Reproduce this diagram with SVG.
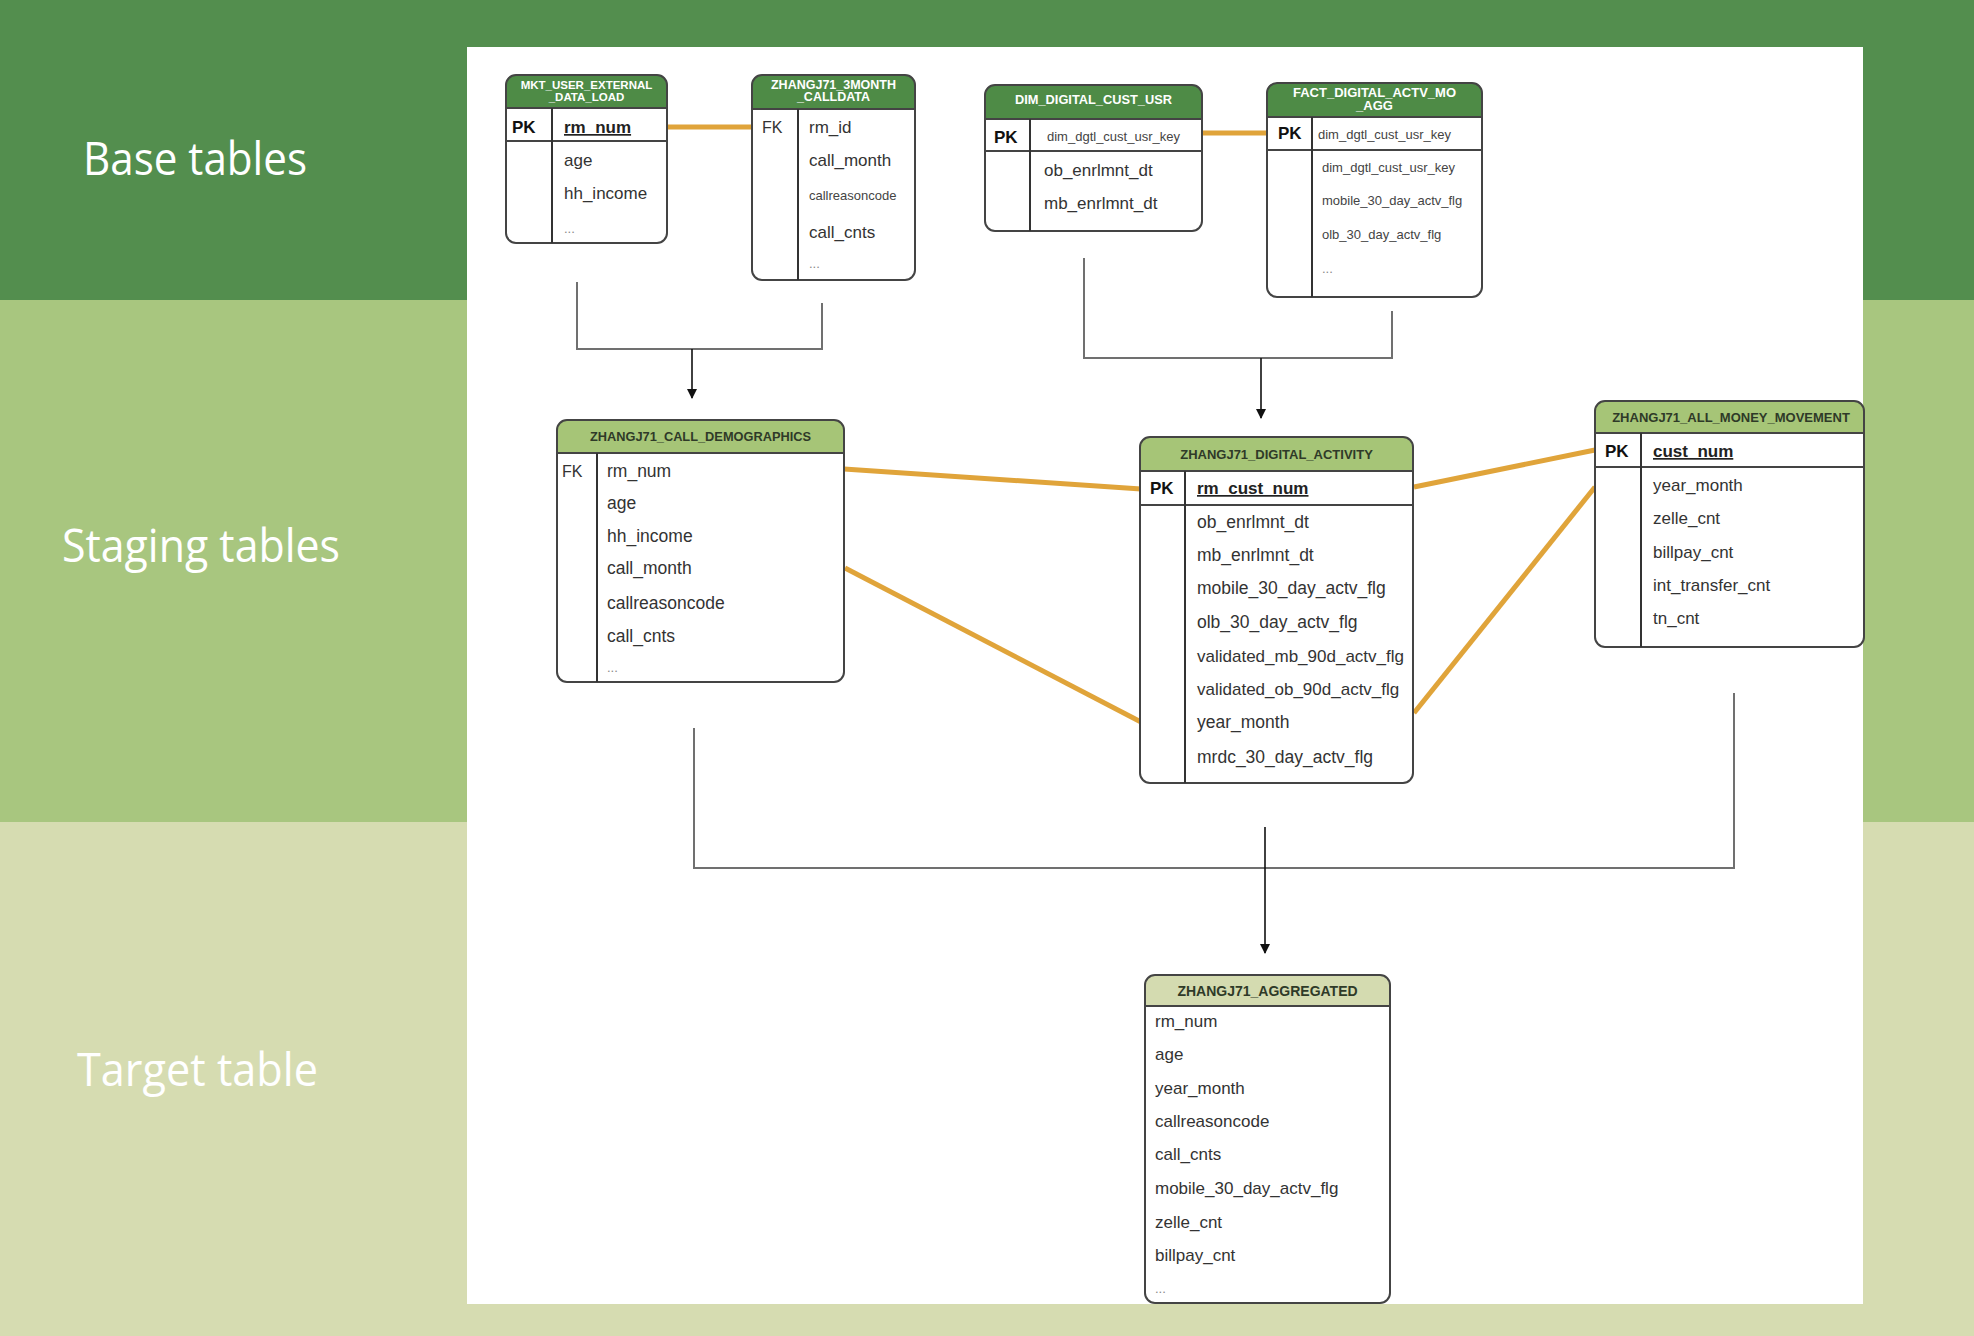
<svg xmlns="http://www.w3.org/2000/svg" width="1974" height="1336" viewBox="0 0 1974 1336">
<style>
.lbl{font-family:"Open Sans","Liberation Sans",sans-serif;font-size:46px;fill:#ffffff}
.body{fill:#ffffff}
.frame{fill:none;stroke:#444444;stroke-width:2}
.sep{stroke:#444444;stroke-width:2}
.div{stroke:#333333;stroke-width:2}
.hb{fill:#4E8B46}
.hs{fill:#A6C577}
.ht{fill:#D4DBB0}
.tw{font-family:"Liberation Sans",Arial,sans-serif;font-weight:bold;fill:#ffffff;text-anchor:middle}
.td{font-family:"Liberation Sans",Arial,sans-serif;font-weight:bold;fill:#2f3a28;text-anchor:middle}
.pk{font-family:"Liberation Sans",Arial,sans-serif;font-weight:bold;font-size:17px;fill:#111111}
.fk{font-family:"Liberation Sans",Arial,sans-serif;font-size:16px;fill:#333333}
.r{font-family:"Liberation Sans",Arial,sans-serif;font-size:17px;fill:#333333}
.r2{font-family:"Liberation Sans",Arial,sans-serif;font-size:17.5px;fill:#333333}
.rb{font-family:"Liberation Sans",Arial,sans-serif;font-size:17px;font-weight:bold;fill:#222222;text-decoration:underline}
.s{font-family:"Liberation Sans",Arial,sans-serif;font-size:13px;fill:#444444}
.dots{font-family:"Liberation Sans",Arial,sans-serif;font-size:13px;fill:#888888}
.gray{fill:none;stroke:#707070;stroke-width:2}
.arr{fill:none;stroke:#111111;stroke-width:1.6}
.or{fill:none;stroke:#E0A43A;stroke-width:5}
</style>
<defs>
<marker id="ah" viewBox="0 0 10 10" refX="9" refY="5" markerWidth="10" markerHeight="10" markerUnits="userSpaceOnUse" orient="auto">
<path d="M0,0 L10,5 L0,10 Z" fill="#111111"/>
</marker>
</defs>

<!-- bands -->
<rect x="0" y="0" width="1974" height="300" fill="#538E4E"/>
<rect x="0" y="300" width="1974" height="522" fill="#A8C67F"/>
<rect x="0" y="822" width="1974" height="514" fill="#D6DCB1"/>
<rect x="467" y="47" width="1396" height="1257" fill="#ffffff"/>

<text class="lbl" x="83" y="175" textLength="224" lengthAdjust="spacingAndGlyphs">Base tables</text>
<text class="lbl" x="62" y="562" textLength="278" lengthAdjust="spacingAndGlyphs">Staging tables</text>
<text class="lbl" x="77" y="1086" textLength="241" lengthAdjust="spacingAndGlyphs">Target table</text>

<!-- connectors -->
<g id="connectors">
<path class="or" d="M668,127 H752"/>
<path class="or" d="M1202,133 H1267"/>
<path class="or" d="M844,469 L1141,489"/>
<path class="or" d="M845,568 L1141,722"/>
<path class="or" d="M1414,487 L1595,450"/>
<path class="or" d="M1414,713 L1595,487"/>
<path class="gray" d="M577,282 V349 H822 V303"/>
<path class="arr" d="M692,349 V398" marker-end="url(#ah)"/>
<path class="gray" d="M1084,258 V358 H1392 V311"/>
<path class="arr" d="M1261,358 V418" marker-end="url(#ah)"/>
<path class="gray" d="M694,728 V868 H1734 V693"/>
<path class="arr" d="M1265,827 V953" marker-end="url(#ah)"/>
</g>

<!-- MKT_USER_EXTERNAL_DATA_LOAD -->
<g id="mkt_user_external_data_load">
<rect class="body" x="506" y="75" width="161" height="168" rx="10"/>
<path class="hb" d="M506,108 V85 Q506,75 516,75 H657 Q667,75 667,85 V108 Z"/>
<rect class="frame" x="506" y="75" width="161" height="168" rx="10"/>
<line class="sep" x1="506" y1="108" x2="667" y2="108"/>
<line class="sep" x1="506" y1="141" x2="667" y2="141"/>
<line class="div" x1="552" y1="108" x2="552" y2="243"/>
<text class="tw" x="586.5" y="89" font-size="11.5">MKT_USER_EXTERNAL</text>
<text class="tw" x="586.5" y="101" font-size="11.5">_DATA_LOAD</text>
<text class="pk" x="512" y="133">PK</text>
<text class="rb" x="564" y="133">rm_num</text>
<text class="r" x="564" y="166">age</text>
<text class="r" x="564" y="199">hh_income</text>
<text class="dots" x="564" y="233">...</text>
</g>

<!-- ZHANGJ71_3MONTH_CALLDATA -->
<g id="zhangj71_3month_calldata">
<rect class="body" x="752" y="75" width="163" height="205" rx="10"/>
<path class="hb" d="M752,109 V85 Q752,75 762,75 H905 Q915,75 915,85 V109 Z"/>
<rect class="frame" x="752" y="75" width="163" height="205" rx="10"/>
<line class="sep" x1="752" y1="109" x2="915" y2="109"/>
<line class="div" x1="798" y1="109" x2="798" y2="280"/>
<text class="tw" x="833.5" y="89" font-size="12.5">ZHANGJ71_3MONTH</text>
<text class="tw" x="833.5" y="101" font-size="12.5">_CALLDATA</text>
<text class="fk" x="762" y="133">FK</text>
<text class="r" x="809" y="133">rm_id</text>
<text class="r" x="809" y="166">call_month</text>
<text class="s" x="809" y="200" font-size="12">callreasoncode</text>
<text class="r" x="809" y="238">call_cnts</text>
<text class="dots" x="809" y="268">...</text>
</g>

<!-- DIM_DIGITAL_CUST_USR -->
<g id="dim_digital_cust_usr">
<rect class="body" x="985" y="85" width="217" height="146" rx="10"/>
<path class="hb" d="M985,119 V95 Q985,85 995,85 H1192 Q1202,85 1202,95 V119 Z"/>
<rect class="frame" x="985" y="85" width="217" height="146" rx="10"/>
<line class="sep" x1="985" y1="119" x2="1202" y2="119"/>
<line class="sep" x1="985" y1="151" x2="1202" y2="151"/>
<line class="div" x1="1030" y1="119" x2="1030" y2="231"/>
<text class="tw" x="1093.5" y="104" font-size="12.8">DIM_DIGITAL_CUST_USR</text>
<text class="pk" x="994" y="143">PK</text>
<text class="s" x="1047" y="141">dim_dgtl_cust_usr_key</text>
<text class="r" x="1044" y="176">ob_enrlmnt_dt</text>
<text class="r" x="1044" y="209">mb_enrlmnt_dt</text>
</g>

<!-- FACT_DIGITAL_ACTV_MO_AGG -->
<g id="fact_digital_actv_mo_agg">
<rect class="body" x="1267" y="83" width="215" height="214" rx="10"/>
<path class="hb" d="M1267,117 V93 Q1267,83 1277,83 H1472 Q1482,83 1482,93 V117 Z"/>
<rect class="frame" x="1267" y="83" width="215" height="214" rx="10"/>
<line class="sep" x1="1267" y1="117" x2="1482" y2="117"/>
<line class="sep" x1="1267" y1="150" x2="1482" y2="150"/>
<line class="div" x1="1312" y1="117" x2="1312" y2="297"/>
<text class="tw" x="1374.5" y="97" font-size="13">FACT_DIGITAL_ACTV_MO</text>
<text class="tw" x="1374.5" y="110" font-size="13">_AGG</text>
<text class="pk" x="1278" y="139">PK</text>
<text class="s" x="1318" y="139">dim_dgtl_cust_usr_key</text>
<text class="s" x="1322" y="172" font-size="12.5">dim_dgtl_cust_usr_key</text>
<text class="s" x="1322" y="205">mobile_30_day_actv_flg</text>
<text class="s" x="1322" y="239">olb_30_day_actv_flg</text>
<text class="dots" x="1322" y="273">...</text>
</g>

<!-- ZHANGJ71_CALL_DEMOGRAPHICS -->
<g id="zhangj71_call_demographics">
<rect class="body" x="557" y="420" width="287" height="262" rx="10"/>
<path class="hs" d="M557,453 V430 Q557,420 567,420 H834 Q844,420 844,430 V453 Z"/>
<rect class="frame" x="557" y="420" width="287" height="262" rx="10"/>
<line class="sep" x1="557" y1="453" x2="844" y2="453"/>
<line class="div" x1="597" y1="453" x2="597" y2="682"/>
<text class="td" x="700.5" y="441" font-size="12.8">ZHANGJ71_CALL_DEMOGRAPHICS</text>
<text class="fk" x="562" y="477">FK</text>
<text class="r2" x="607" y="477">rm_num</text>
<text class="r2" x="607" y="509">age</text>
<text class="r2" x="607" y="542">hh_income</text>
<text class="r2" x="607" y="574">call_month</text>
<text class="r2" x="607" y="609">callreasoncode</text>
<text class="r2" x="607" y="642">call_cnts</text>
<text class="dots" x="607" y="672">...</text>
</g>

<!-- ZHANGJ71_DIGITAL_ACTIVITY -->
<g id="zhangj71_digital_activity">
<rect class="body" x="1140" y="437" width="273" height="346" rx="10"/>
<path class="hs" d="M1140,471 V447 Q1140,437 1150,437 H1403 Q1413,437 1413,447 V471 Z"/>
<rect class="frame" x="1140" y="437" width="273" height="346" rx="10"/>
<line class="sep" x1="1140" y1="471" x2="1413" y2="471"/>
<line class="sep" x1="1140" y1="505" x2="1413" y2="505"/>
<line class="div" x1="1185" y1="471" x2="1185" y2="783"/>
<text class="td" x="1276.5" y="459" font-size="13">ZHANGJ71_DIGITAL_ACTIVITY</text>
<text class="pk" x="1150" y="494">PK</text>
<text class="rb" x="1197" y="494">rm_cust_num</text>
<text class="r2" x="1197" y="528">ob_enrlmnt_dt</text>
<text class="r2" x="1197" y="561">mb_enrlmnt_dt</text>
<text class="r2" x="1197" y="594">mobile_30_day_actv_flg</text>
<text class="r2" x="1197" y="628">olb_30_day_actv_flg</text>
<text class="r" x="1197" y="662" font-size="16.2">validated_mb_90d_actv_flg</text>
<text class="r" x="1197" y="695" font-size="16">validated_ob_90d_actv_flg</text>
<text class="r2" x="1197" y="728">year_month</text>
<text class="r2" x="1197" y="763">mrdc_30_day_actv_flg</text>
</g>

<!-- ZHANGJ71_ALL_MONEY_MOVEMENT -->
<g id="zhangj71_all_money_movement">
<rect class="body" x="1595" y="401" width="269" height="246" rx="10"/>
<path class="hs" d="M1595,433 V411 Q1595,401 1605,401 H1854 Q1864,401 1864,411 V433 Z"/>
<rect class="frame" x="1595" y="401" width="269" height="246" rx="10"/>
<line class="sep" x1="1595" y1="433" x2="1864" y2="433"/>
<line class="sep" x1="1595" y1="467" x2="1864" y2="467"/>
<line class="div" x1="1641" y1="433" x2="1641" y2="647"/>
<text class="td" x="1731" y="422" font-size="13">ZHANGJ71_ALL_MONEY_MOVEMENT</text>
<text class="pk" x="1605" y="457">PK</text>
<text class="rb" x="1653" y="457">cust_num</text>
<text class="r" x="1653" y="491">year_month</text>
<text class="r" x="1653" y="524">zelle_cnt</text>
<text class="r" x="1653" y="558">billpay_cnt</text>
<text class="r" x="1653" y="591">int_transfer_cnt</text>
<text class="r" x="1653" y="624">tn_cnt</text>
</g>

<!-- ZHANGJ71_AGGREGATED -->
<g id="zhangj71_aggregated">
<rect class="body" x="1145" y="975" width="245" height="328" rx="10"/>
<path class="ht" d="M1145,1006 V985 Q1145,975 1155,975 H1380 Q1390,975 1390,985 V1006 Z"/>
<rect class="frame" x="1145" y="975" width="245" height="328" rx="10"/>
<line class="sep" x1="1145" y1="1006" x2="1390" y2="1006"/>
<text class="td" x="1267.5" y="996" font-size="14">ZHANGJ71_AGGREGATED</text>
<text class="r" x="1155" y="1027">rm_num</text>
<text class="r" x="1155" y="1060">age</text>
<text class="r" x="1155" y="1094">year_month</text>
<text class="r" x="1155" y="1127">callreasoncode</text>
<text class="r" x="1155" y="1160">call_cnts</text>
<text class="r" x="1155" y="1194">mobile_30_day_actv_flg</text>
<text class="r" x="1155" y="1228">zelle_cnt</text>
<text class="r" x="1155" y="1261">billpay_cnt</text>
<text class="dots" x="1155" y="1293">...</text>
</g>
</svg>
